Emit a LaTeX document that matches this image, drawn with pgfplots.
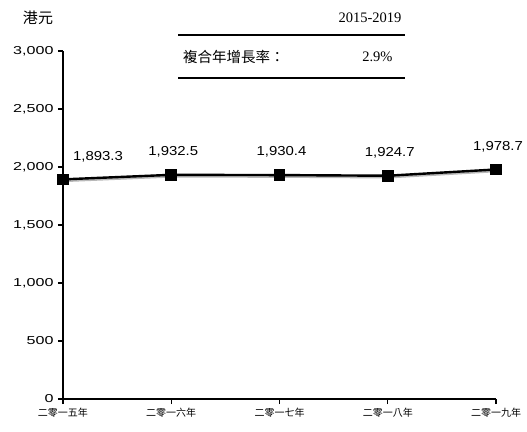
\documentclass[border=0pt]{standalone}
\usepackage{pgfplots}
\pgfplotsset{compat=1.18}
\usepackage{fontspec}
\setmainfont{Liberation Serif}
\newfontfamily\arialw[FakeStretch=1.4]{Liberation Sans}
\newfontfamily\arialv[FakeStretch=1.15]{Liberation Sans}
\newfontfamily\cjk{Noto Sans CJK TC}

\begin{document}
\begin{tikzpicture}
\useasboundingbox (-63pt,-32pt) rectangle (464pt,399pt);
\begin{axis}[
    at={(0pt,0pt)}, anchor=south west,
    scale only axis,
    width=433pt, height=348pt,
    axis lines=left,
    axis line style={-, line width=1.2pt},
    xmin=0, xmax=4,
    ymin=0, ymax=3000,
    xtick={0,1,2,3,4},
    xticklabels={二零一五年,二零一六年,二零一七年,二零一八年,二零一九年},
    ytick={0,500,1000,1500,2000,2500,3000},
    yticklabels={0,500,{1,000},{1,500},{2,000},{2,500},{3,000}},
    tick align=outside,
    major tick length=5pt,
    tick style={black, line width=1.2pt},
    x tick label style={font=\cjk\fontsize{10}{12}\selectfont, yshift=-1pt},
    y tick label style={font=\arialw\fontsize{11.5}{13}\selectfont, xshift=-1pt},
    /pgf/number format/assume math mode=true,
    clip=false,
]
% soft shadow under the line
\addplot[gray!55, line width=2.5pt, yshift=-1.5pt, xshift=1pt] coordinates {
    (0,1893.3) (1,1932.5) (2,1930.4) (3,1924.7) (4,1978.7)
};
\addplot[black, line width=2.4pt, mark=square*, mark size=4.6pt] coordinates {
    (0,1893.3) (1,1932.5) (2,1930.4) (3,1924.7) (4,1978.7)
};
\addplot[draw=none, nodes near coords, point meta=explicit symbolic,
    every node near coord/.append style={font=\arialv\fontsize{13}{15}\selectfont,
        anchor=center, yshift=23pt, xshift=35pt}] coordinates {
    (0,1893.3) [{1,893.3}]
};
\addplot[draw=none, nodes near coords, point meta=explicit symbolic,
    every node near coord/.append style={font=\arialv\fontsize{13}{15}\selectfont,
        anchor=center, yshift=23pt, xshift=2pt}] coordinates {
    (1,1932.5) [{1,932.5}]
    (2,1930.4) [{1,930.4}]
    (3,1924.7) [{1,924.7}]
    (4,1978.7) [{1,978.7}]
};
\end{axis}
% unit label
\node[font=\cjk\fontsize{15}{17}\selectfont] at (-25pt,381pt) {港元};
% CAGR box
\node[anchor=east, font=\fontsize{14.5}{17}\selectfont] at (342pt,381pt) {2015-2019};
\draw[line width=1.2pt] (115pt,364pt) -- (342pt,364pt);
\node[anchor=west, font=\cjk\fontsize{14.5}{17}\selectfont, inner sep=0pt] at (120pt,342pt) {複合年增長率：};
\node[anchor=east, font=\fontsize{14.5}{17}\selectfont] at (333pt,342pt) {2.9\%};
\draw[line width=1.2pt] (115pt,321pt) -- (342pt,321pt);
\end{tikzpicture}
\end{document}
